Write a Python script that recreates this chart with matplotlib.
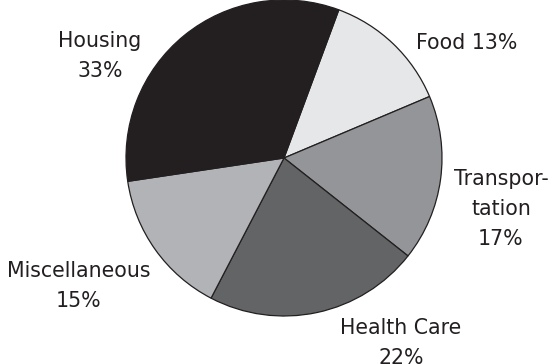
import matplotlib
matplotlib.use('Agg')
import matplotlib.pyplot as plt

# slices in clockwise order, starting from the top boundary of Food
names = ['Food', 'Transportation', 'Health Care', 'Miscellaneous', 'Housing']
shares = [13, 17, 22, 15, 33]
label_texts = ['Food 13%', 'Transpor-\ntation\n17%', 'Health Care\n22%',
               'Miscellaneous\n15%', 'Housing\n33%']
colors = ['#e6e7e8', '#939598', '#636466', '#b1b3b6', '#231f20']

# label centres in pixel coords (x from left, y from top)
label_pos = [(467, 43), (501, 209), (401, 343), (79, 286), (100, 56)]

W, H = 553, 364
fig = plt.figure(figsize=(W / 100, H / 100), dpi=100)
ax = fig.add_axes([0, 0, 1, 1])

ax.pie(shares, colors=colors, startangle=69.7, counterclock=False,
       center=(284, H - 158), radius=158,
       wedgeprops=dict(edgecolor='#231f20', linewidth=0.9))

for txt, (x, y) in zip(label_texts, label_pos):
    ax.text(x, H - y, txt, ha='center', va='center', fontsize=14.8,
            color='#231f20', linespacing=1.6, family='DejaVu Sans')

ax.set_xlim(0, W)
ax.set_ylim(0, H)
ax.set_aspect('equal')
ax.axis('off')

fig.savefig('out.png', dpi=100)
